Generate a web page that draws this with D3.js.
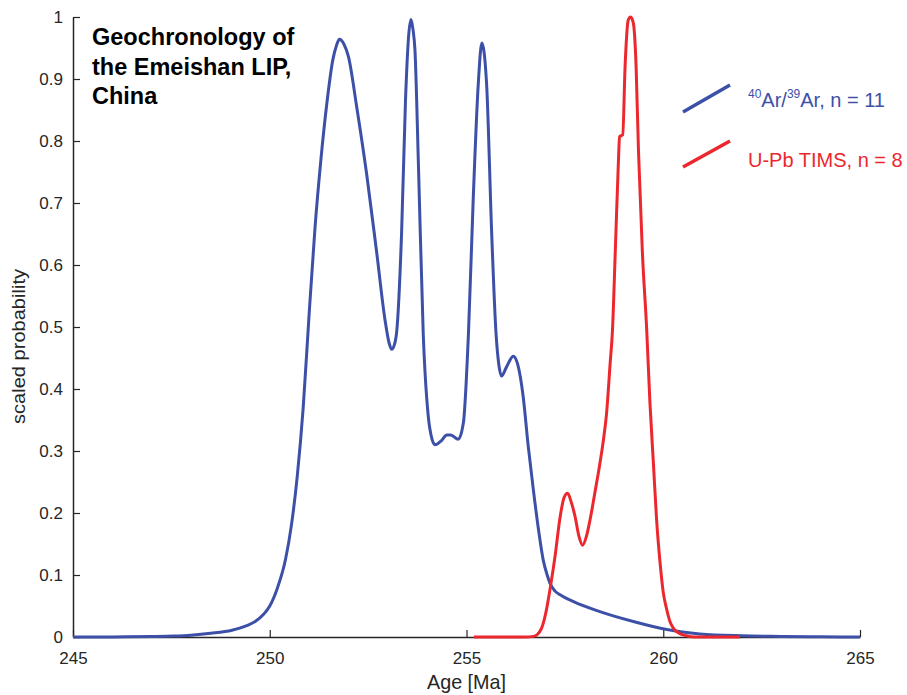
<!DOCTYPE html>
<html>
<head>
<meta charset="utf-8">
<script src="https://cdn.jsdelivr.net/npm/d3@7"></script>
<style>
  html, body { margin: 0; padding: 0; background: #fff; }
  svg { display: block; font-family: "Liberation Sans", Arial, Helvetica, sans-serif; }
</style>
</head>
<body>
<svg id="chart" width="907" height="695"></svg>
<script>
// Probability density curves (age in Ma, scaled probability)
const arAges = [245, 246, 247, 247.57, 248, 248.5, 249.04, 249.4, 249.63, 249.85, 250.0, 250.2, 250.4, 250.55, 250.7, 250.85, 251.0, 251.15, 251.3, 251.45, 251.6, 251.7, 251.77, 251.88, 252.0, 252.21, 252.46, 252.72, 252.93, 253.03, 253.1, 253.16, 253.23, 253.35, 253.45, 253.53, 253.59, 253.64, 253.69, 253.78, 253.9, 254.03, 254.12, 254.2, 254.35, 254.5, 254.6, 254.79, 254.92, 255.05, 255.17, 255.3, 255.39, 255.51, 255.64, 255.75, 255.82, 255.89, 256.02, 256.19, 256.3, 256.44, 256.57, 256.7, 256.83, 256.95, 257.05, 257.12, 257.25, 257.38, 257.72, 258.39, 259.24, 260.09, 260.93, 262, 263, 264, 265];
const arProb = [0, 0.0002, 0.0008, 0.0016, 0.003, 0.006, 0.011, 0.018, 0.025, 0.037, 0.05, 0.08, 0.125, 0.18, 0.26, 0.37, 0.52, 0.66, 0.77, 0.86, 0.93, 0.955, 0.964, 0.957, 0.936, 0.855, 0.748, 0.619, 0.511, 0.475, 0.464, 0.47, 0.495, 0.651, 0.866, 0.97, 0.996, 0.98, 0.947, 0.758, 0.49, 0.355, 0.32, 0.31, 0.316, 0.326, 0.326, 0.319, 0.345, 0.49, 0.705, 0.893, 0.958, 0.893, 0.651, 0.49, 0.44, 0.421, 0.436, 0.453, 0.44, 0.388, 0.307, 0.237, 0.173, 0.124, 0.1, 0.087, 0.074, 0.068, 0.057, 0.041, 0.025, 0.012, 0.005, 0.002, 0.001, 0.0003, 0];

const upbAges = [255.19, 256.5, 256.7, 256.8, 256.9, 256.95, 257.05, 257.12, 257.25, 257.38, 257.48, 257.57, 257.66, 257.76, 257.86, 257.95, 258.05, 258.14, 258.26, 258.39, 258.48, 258.56, 258.65, 258.71, 258.78, 258.86, 258.89, 258.97, 259.03, 259.11, 259.17, 259.24, 259.31, 259.37, 259.47, 259.58, 259.66, 259.75, 259.83, 259.92, 260.0, 260.09, 260.17, 260.26, 260.4, 260.59, 260.8, 261.95];
const upbProb = [0, 0, 0.001, 0.004, 0.013, 0.022, 0.05, 0.076, 0.13, 0.194, 0.225, 0.232, 0.218, 0.194, 0.162, 0.148, 0.163, 0.189, 0.232, 0.28, 0.318, 0.361, 0.441, 0.495, 0.62, 0.766, 0.807, 0.81, 0.92, 0.995, 1.0, 0.99, 0.92, 0.785, 0.62, 0.495, 0.38, 0.28, 0.19, 0.119, 0.072, 0.044, 0.025, 0.014, 0.006, 0.002, 0, 0];

const xTicks = [245, 250, 255, 260, 265];
const yTicks = [0, 0.1, 0.2, 0.3, 0.4, 0.5, 0.6, 0.7, 0.8, 0.9, 1];
const yTickLabels = ["0", "0.1", "0.2", "0.3", "0.4", "0.5", "0.6", "0.7", "0.8", "0.9", "1"];

const titleLines = ["Geochronology of", "the Emeishan LIP,", "China"];

const blue = "#3d50a8";
const red = "#ec282e";
const ink = "#262626";

const svg = d3.select("#chart");

const x = d3.scaleLinear().domain([245, 265]).range([73, 860]);
const y = d3.scaleLinear().domain([0, 1]).range([637, 17]);

// Axes: ticks point inward, no box
const xAxis = svg.append("g")
  .attr("transform", `translate(0,${y(0)})`)
  .call(d3.axisBottom(x).tickValues(xTicks).tickSize(-7).tickSizeOuter(0).tickPadding(15).tickFormat(d3.format("d")));
const yAxis = svg.append("g")
  .attr("transform", `translate(${x(245)},0)`)
  .call(d3.axisLeft(y).tickValues(yTicks).tickSize(-7).tickSizeOuter(0).tickPadding(10)
    .tickFormat((d, i) => yTickLabels[i]));

[xAxis, yAxis].forEach(g => {
  g.selectAll(".domain").attr("stroke", ink).attr("stroke-width", 1.5);
  g.selectAll(".tick line").attr("stroke", ink).attr("stroke-width", 1.2);
  g.selectAll(".tick text").attr("fill", ink).attr("font-size", 17)
    .attr("font-family", "'Liberation Sans', Arial, sans-serif");
});

// Axis titles
svg.append("text")
  .attr("x", 466.5).attr("y", 689)
  .attr("text-anchor", "middle")
  .attr("font-size", 21)
  .attr("textLength", 79).attr("lengthAdjust", "spacingAndGlyphs")
  .attr("fill", ink)
  .text("Age [Ma]");

svg.append("text")
  .attr("transform", "translate(25,346.5) rotate(-90)")
  .attr("text-anchor", "middle")
  .attr("font-size", 18)
  .attr("textLength", 155).attr("lengthAdjust", "spacingAndGlyphs")
  .attr("fill", ink)
  .text("scaled probability");

// Curves
const line = d3.line()
  .x(d => x(d[0]))
  .y(d => y(d[1]))
  .curve(d3.curveMonotoneX);

svg.append("path")
  .datum(d3.zip(arAges, arProb))
  .attr("d", line)
  .attr("fill", "none")
  .attr("stroke", blue)
  .attr("stroke-width", 3)
  .attr("stroke-linejoin", "round");

svg.append("path")
  .datum(d3.zip(upbAges, upbProb))
  .attr("d", line)
  .attr("fill", "none")
  .attr("stroke", red)
  .attr("stroke-width", 3)
  .attr("stroke-linejoin", "round");

// Title block
const title = svg.append("text")
  .attr("x", 92).attr("y", 45)
  .attr("font-size", 23.5)
  .attr("font-weight", "bold")
  .attr("fill", "#000");
titleLines.forEach((t, i) => {
  title.append("tspan").attr("x", 92).attr("y", 45 + i * 29.5).text(t);
});

// Legend
const legend = svg.append("g");
legend.append("line")
  .attr("x1", 683).attr("y1", 112).attr("x2", 730).attr("y2", 85)
  .attr("stroke", blue).attr("stroke-width", 3.5);
legend.append("line")
  .attr("x1", 683).attr("y1", 167).attr("x2", 730).attr("y2", 141)
  .attr("stroke", red).attr("stroke-width", 3.5);

const arLabel = legend.append("text")
  .attr("x", 748).attr("y", 107)
  .attr("font-size", 20)
  .attr("fill", blue);
arLabel.append("tspan").attr("font-size", 12).attr("dy", -9).text("40");
arLabel.append("tspan").attr("dy", 9).text("Ar/");
arLabel.append("tspan").attr("font-size", 12).attr("dy", -9).text("39");
arLabel.append("tspan").attr("dy", 9).text("Ar, n = 11");

legend.append("text")
  .attr("x", 748).attr("y", 166.5)
  .attr("font-size", 20)
  .attr("fill", red)
  .text("U-Pb TIMS, n = 8");
</script>
</body>
</html>
